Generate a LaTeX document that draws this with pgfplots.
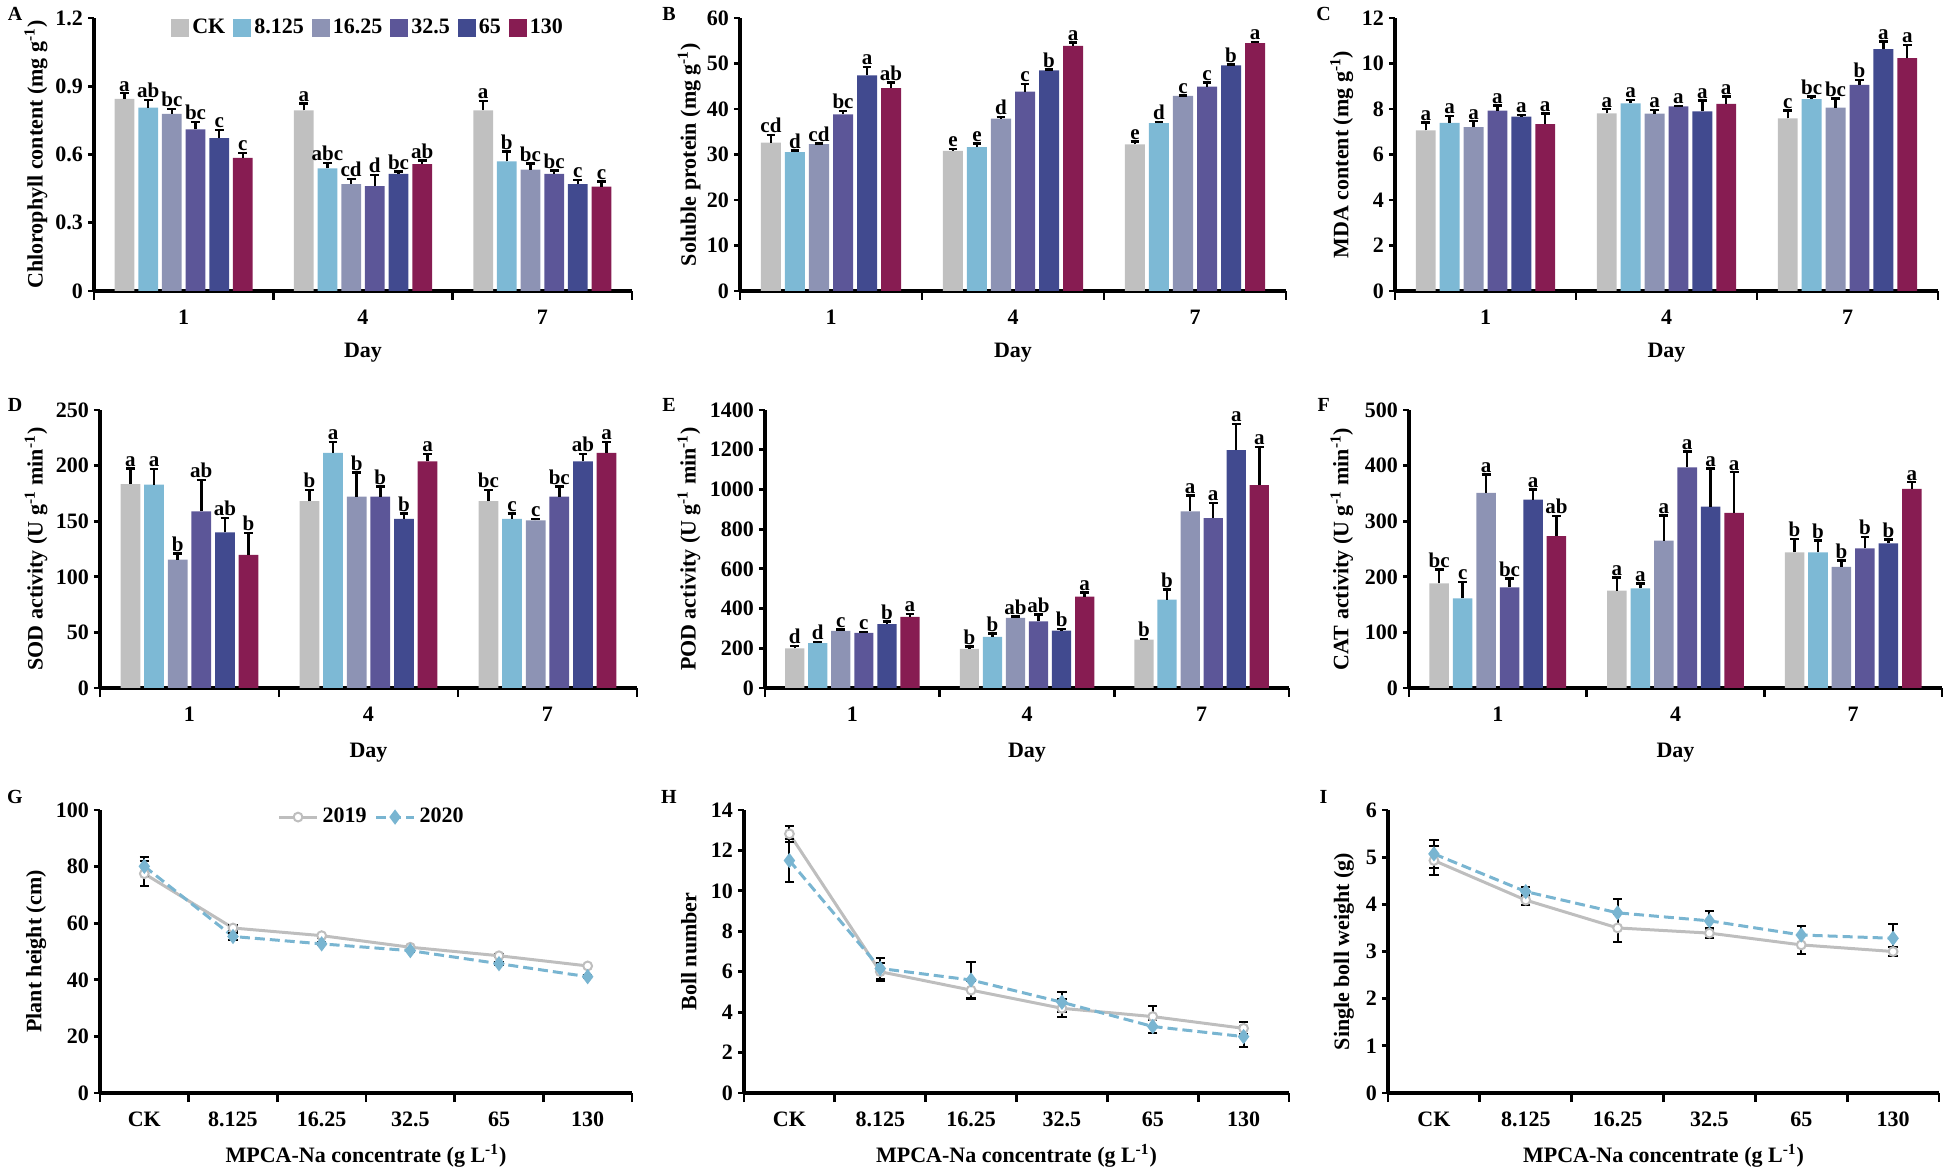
\documentclass[border=0pt]{standalone}
\usepackage{fontspec}
\setmainfont{Liberation Serif}
\usepackage{pgfplots}
\usepackage{pgfplotstable}
\pgfplotsset{compat=1.18}

\definecolor{c0}{HTML}{C0C0C0}
\definecolor{c1}{HTML}{7DB9D5}
\definecolor{c2}{HTML}{8D93B4}
\definecolor{c3}{HTML}{5C5698}
\definecolor{c4}{HTML}{414A8F}
\definecolor{c5}{HTML}{871C52}
\definecolor{c2019}{HTML}{BEBEBE}
\definecolor{c2020}{HTML}{79B5D1}

\newcommand\fs{\fontsize{11}{13}\selectfont}
\newcommand\fl{\fontsize{10.5}{12}\selectfont}

% bar panels: one row per day, y/e/l = mean, error, letter for each concentration
\pgfplotstableread{
g y0 e0 l0 y1 e1 l1 y2 e2 l2 y3 e3 l3 y4 e4 l4 y5 e5 l5
0 0.845 0.024 a 0.806 0.033 ab 0.779 0.022 bc 0.710 0.032 bc 0.672 0.035 c 0.585 0.022 c
1 0.794 0.031 a 0.539 0.024 abc 0.470 0.023 cd 0.461 0.050 d 0.515 0.011 bc 0.558 0.016 ab
2 0.794 0.041 a 0.570 0.044 b 0.533 0.027 bc 0.515 0.015 bc 0.470 0.019 c 0.459 0.023 c
}\tabA
\pgfplotstableread{
g y0 e0 l0 y1 e1 l1 y2 e2 l2 y3 e3 l3 y4 e4 l4 y5 e5 l5
0 32.6 1.7 cd 30.5 0.4 d 32.3 0.1 cd 38.8 0.8 bc 47.4 1.8 a 44.6 1.2 ab
1 30.8 0.4 e 31.6 0.8 e 37.9 0.4 d 43.8 1.7 c 48.5 0.2 b 53.9 0.7 a
2 32.2 0.7 e 36.9 0.2 d 42.9 0.1 c 44.9 0.9 c 49.6 0.15 b 54.5 0.2 a
}\tabB
\pgfplotstableread{
g y0 e0 l0 y1 e1 l1 y2 e2 l2 y3 e3 l3 y4 e4 l4 y5 e5 l5
0 7.06 0.34 a 7.39 0.30 a 7.20 0.26 a 7.93 0.22 a 7.67 0.07 a 7.34 0.47 a
1 7.81 0.18 a 8.25 0.15 a 7.80 0.16 a 8.11 0.03 a 7.89 0.48 a 8.22 0.33 a
2 7.59 0.34 c 8.43 0.12 bc 8.06 0.40 bc 9.06 0.22 b 10.63 0.34 a 10.24 0.57 a
}\tabC
\pgfplotstableread{
g y0 e0 l0 y1 e1 l1 y2 e2 l2 y3 e3 l3 y4 e4 l4 y5 e5 l5
0 183.4 14.0 a 183.0 13.8 a 115.5 5.5 b 158.9 28.0 ab 140.0 13.0 ab 119.8 19.6 b
1 168.1 10.0 b 211.5 9.8 a 172.0 21.7 b 172.0 9.2 b 152.2 4.6 b 203.9 6.4 a
2 168.1 10.0 bc 152.2 4.6 c 150.7 1.5 c 172.0 9.2 bc 203.9 6.4 ab 211.5 9.8 a
}\tabD
\pgfplotstableread{
g y0 e0 l0 y1 e1 l1 y2 e2 l2 y3 e3 l3 y4 e4 l4 y5 e5 l5
0 200 12 d 226 5 d 288 7 c 277 5 c 322 13 b 358 15 a
1 197 12 b 257 17 b 353 8 ab 335 35 ab 289 9 b 460 21 a
2 243 3 b 445 51 b 890 79 a 856 75 a 1198 132 a 1022 191 a
}\tabE
\pgfplotstableread{
g y0 e0 l0 y1 e1 l1 y2 e2 l2 y3 e3 l3 y4 e4 l4 y5 e5 l5
0 188 25 bc 161 30 c 351 33 a 181 16 bc 339 18 a 273 36 ab
1 175 24 a 179 9 a 265 45 a 397 28 a 326 69 a 315 73 a
2 244 24 b 244 21 b 218 11 b 251 21 b 260 7 b 358 12 a
}\tabF

% line panels: a = 2019, b = 2020
\pgfplotstableread{
g a ea b eb
0 77.5 4.5 80.1 3.3
1 58.3 1.2 55.3 1.3
2 55.6 0.7 52.7 0.5
3 51.5 0.6 50.3 0.5
4 48.5 0.6 45.7 0.6
5 44.9 0.5 41.1 0.5
}\tabG
\pgfplotstableread{
g a ea b eb
0 12.82 0.38 11.50 1.07
1 6.00 0.45 6.16 0.53
2 5.09 0.43 5.59 0.90
3 4.19 0.45 4.49 0.50
4 3.78 0.50 3.29 0.33
5 3.20 0.30 2.79 0.50
}\tabH
\pgfplotstableread{
g a ea b eb
0 4.93 0.30 5.07 0.30
1 4.09 0.11 4.27 0.10
2 3.50 0.30 3.82 0.30
3 3.39 0.10 3.65 0.20
4 3.14 0.20 3.35 0.20
5 3.00 0.10 3.28 0.30
}\tabI

\pgfplotsset{
  panel/.style={
    scale only axis, clip=false,
    axis x line*=bottom, axis y line*=left,
    axis line style={line width=2pt},
    tick align=outside,
    major tick length=3pt, minor tick length=4.5pt,
    tick style={line width=1.4pt, black},
    major x tick style={draw=none},
    tick label style={font=\fs\bfseries},
    xticklabel style={yshift=-3pt},
    yticklabel style={xshift=1pt},
    /pgf/number format/assume math mode=true,
    /pgf/number format/1000 sep={},
    scaled y ticks=false,
    label style={font=\fs\bfseries},
    ymin=0,
  },
  barpanel/.style={panel, xmin=-0.5, xmax=2.5, xtick={0,1,2}, xticklabels={1,4,7},
    minor xtick={-0.5,0.5,1.5,2.5}, xlabel={Day}},
  linepanel/.style={panel, xmin=-0.5, xmax=5.5, xtick={0,1,2,3,4,5},
    xticklabels={CK,8.125,16.25,32.5,65,130},
    minor xtick={-0.5,0.5,1.5,2.5,3.5,4.5,5.5},
    xlabel={MPCA-Na concentrate (g L\textsuperscript{-1})}},
}

% six bars per day, side by side (0.132 axis units apart)
\newcommand\drawbars[1]{%
  \pgfplotsinvokeforeach{0,...,5}{%
    \addplot[ybar, bar width=0.11, bar shift=0pt, fill=c##1, draw=none,
      error bars/.cd, y dir=plus, y explicit,
      error bar style={solid, line width=1.2pt, black},
      error mark options={solid, rotate=90, line width=1.2pt, black, mark size=2.2pt}]
      table[x expr=\thisrow{g}+(##1-2.5)*0.132, y=y##1, y error=e##1] {#1};
  }%
  \pgfplotsinvokeforeach{0,...,5}{%
    \addplot[only marks, mark=none, forget plot,
      nodes near coords, point meta=explicit symbolic,
      every node near coord/.append style={font=\fl\bfseries, inner sep=0.8pt, anchor=south, black}]
      table[x expr=\thisrow{g}+(##1-2.5)*0.132, y expr=\thisrow{y##1}+\thisrow{e##1}, meta=l##1] {#1};
  }%
}

\newcommand\drawlines[1]{%
  \addplot[c2019, line width=1.5pt, mark=*, mark size=2.2pt,
    mark options={solid, fill=white, draw=c2019, line width=1pt},
    error bars/.cd, y dir=both, y explicit,
    error bar style={solid, line width=1pt, black},
    error mark options={solid, rotate=90, line width=1pt, black, mark size=2.3pt}]
    table[x=g, y=a, y error=ea] {#1};
  \addplot[c2020, line width=1.5pt, dash pattern=on 5pt off 2.5pt, mark=diamond*, mark size=2.6pt,
    mark options={solid, fill=c2020, draw=c2020},
    error bars/.cd, y dir=both, y explicit,
    error bar style={solid, line width=1pt, black},
    error mark options={solid, rotate=90, line width=1pt, black, mark size=2.3pt}]
    table[x=g, y=b, y error=eb] {#1};
}

\begin{document}
\begin{tikzpicture}
\useasboundingbox (0,0) rectangle (972pt,587pt);

% ---- row 1
\begin{axis}[barpanel, at={(47pt,441.5pt)}, anchor=south west, width=269pt, height=136.5pt,
  ymax=1.2, ytick={0,0.3,0.6,0.9,1.2},
  ylabel={Chlorophyll content (mg g\textsuperscript{-1})},
  ylabel style={at={(axis description cs:-0.108,0.5)}, anchor=center},
  xlabel style={at={(axis description cs:0.5,-0.227)}, anchor=center},
  legend entries={CK,8.125,16.25,32.5,65,130},
  legend image code/.code={\fill[#1] (0pt,-4.5pt) rectangle (9pt,4.5pt);},
  legend style={at={(axis description cs:0.143,0.963)}, anchor=west, draw=none, fill=none,
    font=\fs\bfseries, legend columns=6, inner sep=0pt,
    nodes={inner sep=1.5pt},
    /tikz/every even column/.append style={column sep=2.5pt}},
]
\drawbars{\tabA}
\end{axis}

\begin{axis}[barpanel, at={(370pt,441.5pt)}, anchor=south west, width=273pt, height=136.5pt,
  ymax=60, ytick={0,10,...,60},
  ylabel={Soluble protein (mg g\textsuperscript{-1})},
  ylabel style={at={(axis description cs:-0.093,0.5)}, anchor=center},
  xlabel style={at={(axis description cs:0.5,-0.227)}, anchor=center},
]
\drawbars{\tabB}
\end{axis}

\begin{axis}[barpanel, at={(697.5pt,441.5pt)}, anchor=south west, width=271.5pt, height=136.5pt,
  ymax=12, ytick={0,2,...,12},
  ylabel={MDA content (mg g\textsuperscript{-1})},
  ylabel style={at={(axis description cs:-0.098,0.5)}, anchor=center},
  xlabel style={at={(axis description cs:0.5,-0.227)}, anchor=center},
]
\drawbars{\tabC}
\end{axis}

% ---- row 2
\begin{axis}[barpanel, at={(50pt,243pt)}, anchor=south west, width=268.5pt, height=139pt,
  ymax=250, ytick={0,50,...,250},
  ylabel={SOD activity (U g\textsuperscript{-1} min\textsuperscript{-1})},
  ylabel style={at={(axis description cs:-0.119,0.5)}, anchor=center},
  xlabel style={at={(axis description cs:0.5,-0.234)}, anchor=center},
]
\drawbars{\tabD}
\end{axis}

\begin{axis}[barpanel, at={(382.5pt,243pt)}, anchor=south west, width=262pt, height=139pt,
  ymax=1400, ytick={0,200,...,1400},
  ylabel={POD activity (U g\textsuperscript{-1} min\textsuperscript{-1})},
  ylabel style={at={(axis description cs:-0.145,0.5)}, anchor=center},
  xlabel style={at={(axis description cs:0.5,-0.234)}, anchor=center},
]
\drawbars{\tabE}
\end{axis}

\begin{axis}[barpanel, at={(704.5pt,243pt)}, anchor=south west, width=266.5pt, height=139pt,
  ymax=500, ytick={0,100,...,500},
  ylabel={CAT activity (U g\textsuperscript{-1} min\textsuperscript{-1})},
  ylabel style={at={(axis description cs:-0.126,0.5)}, anchor=center},
  xlabel style={at={(axis description cs:0.5,-0.234)}, anchor=center},
]
\drawbars{\tabF}
\end{axis}

% ---- row 3
\begin{axis}[linepanel, at={(50pt,40.5pt)}, anchor=south west, width=266pt, height=141.5pt,
  ymax=100, ytick={0,20,...,100},
  ylabel={Plant height (cm)},
  ylabel style={at={(axis description cs:-0.120,0.5)}, anchor=center},
  xlabel style={at={(axis description cs:0.5,-0.223)}, anchor=center},
  legend entries={2019,2020},
  legend image code/.code={\draw[mark repeat=2, mark phase=2, #1] plot coordinates {(0pt,0pt) (9.5pt,0pt) (19pt,0pt)};},
  legend style={at={(axis description cs:0.333,0.975)}, anchor=west, draw=none, fill=none,
    font=\fs\bfseries, legend columns=2, inner sep=0pt,
    nodes={inner sep=2pt},
    /tikz/every even column/.append style={column sep=2pt}},
]
\drawlines{\tabG}
\end{axis}

\begin{axis}[linepanel, at={(372pt,40.5pt)}, anchor=south west, width=272.5pt, height=141.5pt,
  ymax=14, ytick={0,2,...,14},
  ylabel={Boll number},
  ylabel style={at={(axis description cs:-0.101,0.5)}, anchor=center},
  xlabel style={at={(axis description cs:0.5,-0.223)}, anchor=center},
]
\drawlines{\tabH}
\end{axis}

\begin{axis}[linepanel, at={(694pt,40.5pt)}, anchor=south west, width=275.5pt, height=141.5pt,
  ymax=6, ytick={0,1,...,6},
  ylabel={Single boll weight (g)},
  ylabel style={at={(axis description cs:-0.080,0.5)}, anchor=center},
  xlabel style={at={(axis description cs:0.5,-0.223)}, anchor=center},
]
\drawlines{\tabI}
\end{axis}

% panel letters
\begin{scope}[every node/.style={font=\fontsize{10}{12}\selectfont\bfseries}]
\node at (7.5pt,580pt) {A};
\node at (334.5pt,580pt) {B};
\node at (661.8pt,580pt) {C};
\node at (7.5pt,384.5pt) {D};
\node at (334.5pt,384.5pt) {E};
\node at (661.8pt,384.5pt) {F};
\node at (7.5pt,188.5pt) {G};
\node at (334.5pt,188.5pt) {H};
\node at (661.8pt,188.5pt) {I};
\end{scope}
\end{tikzpicture}
\end{document}
